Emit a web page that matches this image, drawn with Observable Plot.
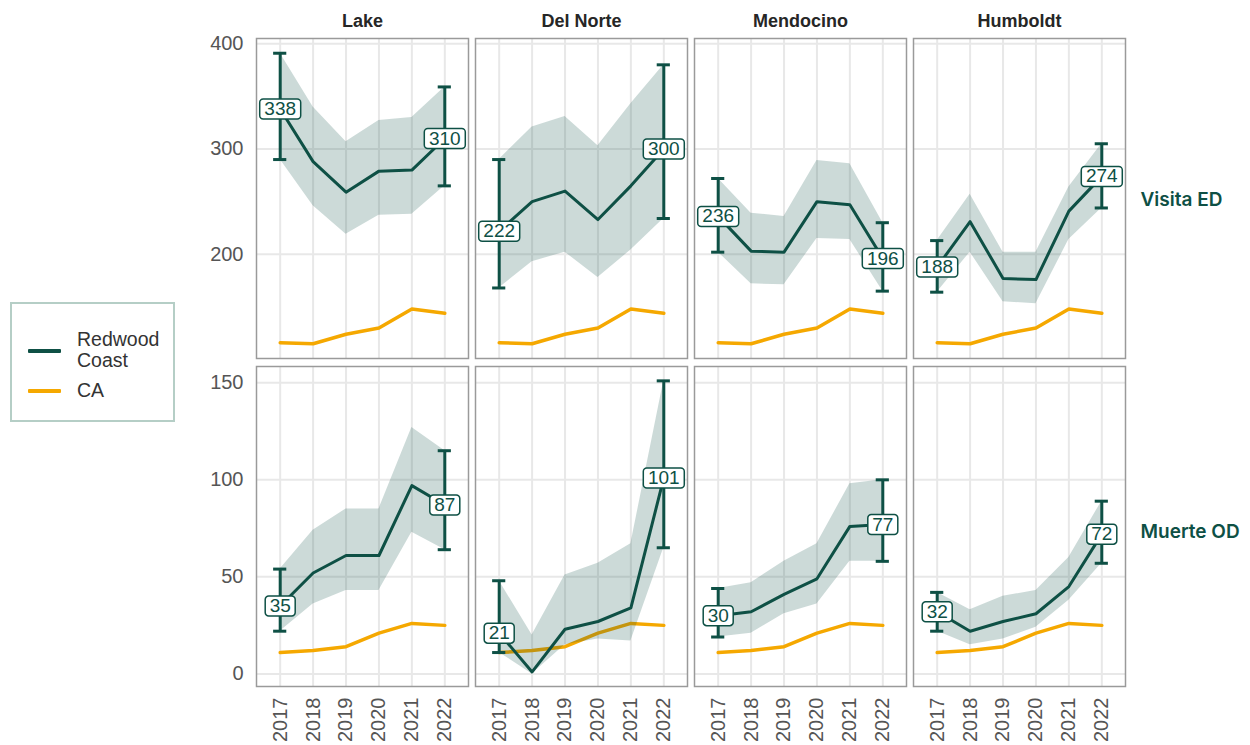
<!DOCTYPE html>
<html>
<head>
<meta charset="utf-8">
<script src="https://cdn.jsdelivr.net/npm/d3@7"></script>
<script src="https://cdn.jsdelivr.net/npm/@observablehq/plot@0.6"></script>
<style>
  body { margin: 0; background: #fff; }
  #wrap { position: relative; width: 1250px; height: 745px; overflow: hidden; font-family: "Liberation Sans", Arial, sans-serif; background: #fff; }
  #top { position: absolute; left: 0; top: 0; }
  #bottom { position: absolute; left: 0; top: 360px; }
  #legend { position: absolute; left: 10px; top: 302px; width: 161px; height: 116px; border: 2px solid #b5cec6; background: #fff; }
  .lg-line { position: absolute; left: 16px; width: 33px; height: 4px; border-radius: 1px; }
  .lg-text { position: absolute; left: 65px; font-size: 19.5px; line-height: 21px; color: #333; }
</style>
</head>
<body>
<div id="wrap">
  <div id="top"></div>
  <div id="bottom"></div>
  <div id="legend">
    <div class="lg-line" style="top:45px;background:#0e5045"></div>
    <div class="lg-text" style="top:25px">Redwood<br>Coast</div>
    <div class="lg-line" style="top:85px;background:#f5a800"></div>
    <div class="lg-text" style="top:76px">CA</div>
  </div>
</div>
<script>
// ---------- data ----------
const counties = ["Lake", "Del Norte", "Mendocino", "Humboldt"];
const years = [2017, 2018, 2019, 2020, 2021, 2022];
const rowLabels = ["Visita ED", "Muerte OD"];
const edTicks = [200, 300, 400];
const odTicks = [0, 50, 100, 150];

// California reference
const caED = [116, 115, 124, 130, 148, 144];
const caOD = [11, 12, 14, 21, 26, 25];

// ED visits (Redwood Coast counties)
const edLake = [338, 288, 259, 279, 280, 310];
const edLakeLo = [290, 246, 219, 237, 238, 265];
const edLakeHi = [391, 340, 307, 327, 330, 359];
const edDelNorte = [222, 250, 260, 233, 265, 300];
const edDelNorteLo = [168, 193, 202, 178, 204, 234];
const edDelNorteHi = [290, 321, 331, 303, 343, 380];
const edMendocino = [236, 203, 202, 250, 247, 196];
const edMendocinoLo = [202, 172, 171, 215, 214, 165];
const edMendocinoHi = [272, 239, 236, 289, 286, 230];
const edHumboldt = [188, 231, 177, 176, 241, 274];
const edHumboldtLo = [164, 202, 155, 153, 214, 244];
const edHumboldtHi = [213, 257, 202, 202, 264, 305];

// OD deaths
const odLake = [35, 52, 61, 61, 97, 87];
const odLakeLo = [22, 36, 43, 43, 73, 64];
const odLakeHi = [54, 74, 85, 85, 127, 115];
const odDelNorte = [21, 1, 23, 27, 34, 101];
const odDelNorteLo = [11, 0, 15, 18, 17, 65];
const odDelNorteHi = [48, 20, 51, 57, 67, 151];
const odMendocino = [30, 32, 41, 49, 76, 77];
const odMendocinoLo = [19, 21, 31, 36, 58, 58];
const odMendocinoHi = [44, 47, 58, 67, 98, 100];
const odHumboldt = [32, 22, 27, 31, 45, 72];
const odHumboldtLo = [22, 15, 18, 24, 38, 57];
const odHumboldtHi = [42, 33, 40, 43, 60, 89];

// ---------- build tables ----------
const edSets = [[edLake, edLakeLo, edLakeHi], [edDelNorte, edDelNorteLo, edDelNorteHi],
                [edMendocino, edMendocinoLo, edMendocinoHi], [edHumboldt, edHumboldtLo, edHumboldtHi]];
const odSets = [[odLake, odLakeLo, odLakeHi], [odDelNorte, odDelNorteLo, odDelNorteHi],
                [odMendocino, odMendocinoLo, odMendocinoHi], [odHumboldt, odHumboldtLo, odHumboldtHi]];

function buildRows(sets) {
  const rows = [];
  counties.forEach((c, i) => {
    const [r, lo, hi] = sets[i];
    years.forEach((y, j) => rows.push({county: c, year: y, rate: r[j], lo: lo[j], hi: hi[j]}));
  });
  return rows;
}
function buildCA(vals) {
  const rows = [];
  counties.forEach(c => years.forEach((y, j) => rows.push({county: c, year: y, v: vals[j]})));
  return rows;
}

const GREEN = "#0e5045";
const ORANGE = "#f5a800";
const FONT = "Liberation Sans, Arial, sans-serif";

// rounded label box as a custom symbol: r = half width
const boxSymbol = {
  draw(ctx, size) {
    const w = Math.sqrt(size / Math.PI), h = 10, k = 3.5;
    ctx.moveTo(-w + k, -h);
    ctx.lineTo(w - k, -h);
    ctx.arcTo(w, -h, w, -h + k, k);
    ctx.lineTo(w, h - k);
    ctx.arcTo(w, h, w - k, h, k);
    ctx.lineTo(-w + k, h);
    ctx.arcTo(-w, h, -w, h - k, k);
    ctx.lineTo(-w, -h + k);
    ctx.arcTo(-w, -h, -w + k, -h, k);
    ctx.closePath();
  }
};

function makeRow({sets, ca, yDomain, yTicks, rowLabel, bottom, height, marginTop, marginBottom, labelDy}) {
  const rows = buildRows(sets);
  const caRows = buildCA(ca);
  const ends = rows.filter(d => d.year === years[0] || d.year === years[years.length - 1]);
  const marks = [
    Plot.gridX(years, {stroke: "#e8e8e8", strokeOpacity: 1, strokeWidth: 2}),
    Plot.gridY(yTicks, {stroke: "#e8e8e8", strokeOpacity: 1, strokeWidth: 2}),
    Plot.lineY(caRows, {x: "year", y: "v", fx: "county", stroke: ORANGE, strokeWidth: 3.5}),
    Plot.areaY(rows, {x: "year", y1: "lo", y2: "hi", fx: "county", fill: GREEN, fillOpacity: 0.21}),
    Plot.lineY(rows, {x: "year", y: "rate", fx: "county", stroke: GREEN, strokeWidth: 3}),
    Plot.ruleX(ends, {x: "year", y1: "lo", y2: "hi", fx: "county", stroke: GREEN, strokeWidth: 3}),
    Plot.ruleY(ends, {y: "lo", x1: d => d.year - 0.2, x2: d => d.year + 0.2, fx: "county", stroke: GREEN, strokeWidth: 3}),
    Plot.ruleY(ends, {y: "hi", x1: d => d.year - 0.2, x2: d => d.year + 0.2, fx: "county", stroke: GREEN, strokeWidth: 3}),
    Plot.dot(ends, {x: "year", y: "rate", fx: "county", r: d => String(d.rate).length >= 3 ? 20.5 : 15,
      symbol: boxSymbol, fill: "white", stroke: GREEN, strokeWidth: 1.5}),
    Plot.text(ends, {x: "year", y: "rate", fx: "county", text: d => String(d.rate), fill: GREEN,
      fontSize: 19, fontFamily: FONT}),
    Plot.frame({stroke: "#9a9a9a", strokeWidth: 1.5}),
    Plot.axisY({anchor: "left", ticks: yTicks, tickSize: 0, tickPadding: 13, fontSize: 20,
      fontFamily: FONT, color: "#555", label: null}),
    Plot.text([rowLabel], {fx: () => counties[counties.length - 1], frameAnchor: "right", textAnchor: "start",
      dx: 15, dy: labelDy, fontSize: 19, fontWeight: 600, fontFamily: "Inter, Noto Sans, sans-serif", fill: GREEN})
  ];
  if (!bottom) {
    marks.push(Plot.axisFx({anchor: "top", tickSize: 0, tickPadding: 12, fontSize: 18, fontWeight: "bold",
      fontFamily: FONT, color: "#262626", label: null}));
  } else {
    marks.push(Plot.axisX({anchor: "bottom", ticks: years, tickFormat: "d", tickRotate: -90, tickSize: 0,
      tickPadding: 11, fontSize: 20, fontFamily: FONT, color: "#555", label: null}));
  }
  return Plot.plot({
    width: 1250, height, marginLeft: 256, marginRight: 125, marginTop, marginBottom,
    style: {background: "transparent", fontFamily: FONT, overflow: "visible"},
    fx: {domain: counties, paddingInner: 7 / 219, paddingOuter: 0, label: null, axis: null},
    x: {domain: [2017 - 0.72, 2022 + 0.72], axis: null},
    y: {domain: yDomain, axis: null},
    r: {type: "identity"},
    marks
  });
}

document.getElementById("top").appendChild(makeRow({
  sets: edSets, ca: caED, yDomain: [101, 405], yTicks: edTicks, rowLabel: rowLabels[0],
  bottom: false, height: 360, marginTop: 38, marginBottom: 2, labelDy: 1
}));
document.getElementById("bottom").appendChild(makeRow({
  sets: odSets, ca: caOD, yDomain: [-6.5, 158.4], yTicks: odTicks, rowLabel: rowLabels[1],
  bottom: true, height: 385, marginTop: 6, marginBottom: 59, labelDy: 5
}));
</script>
</body>
</html>
